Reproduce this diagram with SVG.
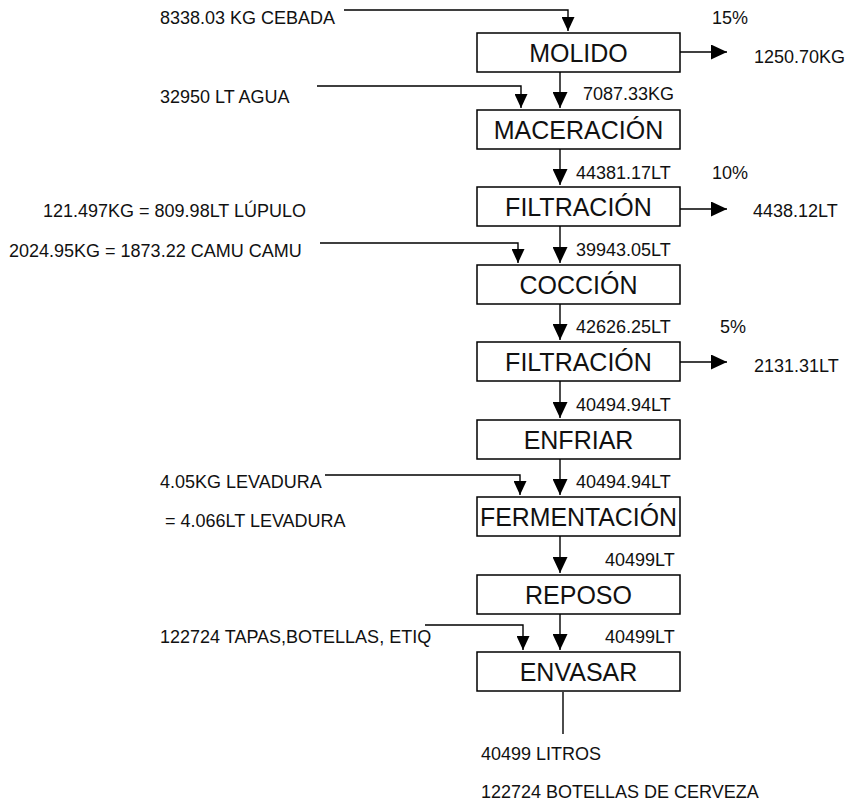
<svg xmlns="http://www.w3.org/2000/svg" width="846" height="804" viewBox="0 0 846 804">
<defs>
<style>
.box rect{fill:#fff;stroke:#000;stroke-width:1.5}
.box text{font-family:"Liberation Sans",Arial,sans-serif;font-size:25px;fill:#111;text-anchor:middle}
.lbl{font-family:"Liberation Sans",Arial,sans-serif;font-size:18px;fill:#111}
.c{fill:none;stroke:#000;stroke-width:1.4}
.m{marker-end:url(#ah)}
.s{marker-end:url(#sh)}
</style>
<marker id="ah" markerUnits="userSpaceOnUse" markerWidth="16" markerHeight="15" refX="16" refY="7.5" orient="auto">
<path d="M0,0 L16,7.5 L0,15 z" fill="#000"/>
</marker>
<marker id="sh" markerUnits="userSpaceOnUse" markerWidth="14" markerHeight="13" refX="14" refY="6.5" orient="auto">
<path d="M0,0 L14,6.5 L0,13 z" fill="#000"/>
</marker>
</defs>
<rect width="846" height="804" fill="#fff"/>
<g id="connectors">
<path class="c m" d="M560,72 V108"/>
<path class="c m" d="M560,149 V185"/>
<path class="c m" d="M560,226 V263"/>
<path class="c m" d="M560,304 V340"/>
<path class="c m" d="M560,381 V418"/>
<path class="c m" d="M560,459 V495"/>
<path class="c m" d="M560,536 V573"/>
<path class="c m" d="M560,614 V650"/>
<path class="c s" d="M344,10 H568 V31"/>
<path class="c s" d="M317,86 H521 V108"/>
<path class="c s" d="M320,243 H518 V263"/>
<path class="c s" d="M325,475 H520 V495"/>
<path class="c s" d="M425,625 H523 V650"/>
<path class="c m" d="M680,52 H727"/>
<path class="c m" d="M680,209 H727"/>
<path class="c m" d="M680,362 H727"/>
<path class="c" d="M563,692 V734"/>
</g>
<g id="molido" class="box"><rect x="477" y="33" width="203" height="39"/><text x="578.5" y="62">MOLIDO</text></g>
<g id="maceracion" class="box"><rect x="477" y="110" width="203" height="39"/><text x="578.5" y="139">MACERACIÓN</text></g>
<g id="filtracion1" class="box"><rect x="477" y="187" width="203" height="39"/><text x="578.5" y="216">FILTRACIÓN</text></g>
<g id="coccion" class="box"><rect x="477" y="265" width="203" height="39"/><text x="578.5" y="294">COCCIÓN</text></g>
<g id="filtracion2" class="box"><rect x="477" y="342" width="203" height="39"/><text x="578.5" y="371">FILTRACIÓN</text></g>
<g id="enfriar" class="box"><rect x="477" y="420" width="203" height="39"/><text x="578.5" y="449">ENFRIAR</text></g>
<g id="fermentacion" class="box"><rect x="477" y="497" width="203" height="39"/><text x="578.5" y="526" textLength="197" lengthAdjust="spacingAndGlyphs">FERMENTACIÓN</text></g>
<g id="reposo" class="box"><rect x="477" y="575" width="203" height="39"/><text x="578.5" y="604">REPOSO</text></g>
<g id="envasar" class="box"><rect x="477" y="652" width="203" height="39"/><text x="578.5" y="681">ENVASAR</text></g>
<g id="labels">
<text class="lbl" x="160" y="24">8338.03 KG CEBADA</text>
<text class="lbl" x="712" y="24">15%</text>
<text class="lbl" x="754" y="63">1250.70KG</text>
<text class="lbl" x="160" y="103">32950 LT AGUA</text>
<text class="lbl" x="583" y="100">7087.33KG</text>
<text class="lbl" x="576" y="179">44381.17LT</text>
<text class="lbl" x="712" y="179">10%</text>
<text class="lbl" x="753" y="217">4438.12LT</text>
<text class="lbl" x="43" y="217">121.497KG = 809.98LT LÚPULO</text>
<text class="lbl" x="9" y="257">2024.95KG = 1873.22 CAMU CAMU</text>
<text class="lbl" x="576" y="256">39943.05LT</text>
<text class="lbl" x="576" y="333">42626.25LT</text>
<text class="lbl" x="720" y="333">5%</text>
<text class="lbl" x="754" y="372">2131.31LT</text>
<text class="lbl" x="576" y="411">40494.94LT</text>
<text class="lbl" x="576" y="488">40494.94LT</text>
<text class="lbl" x="160" y="488">4.05KG LEVADURA</text>
<text class="lbl" x="165" y="527">= 4.066LT LEVADURA</text>
<text class="lbl" x="605" y="566">40499LT</text>
<text class="lbl" x="160" y="643">122724 TAPAS,BOTELLAS, ETIQ</text>
<text class="lbl" x="605" y="643">40499LT</text>
<text class="lbl" x="481" y="760">40499 LITROS</text>
<text class="lbl" x="481" y="798">122724 BOTELLAS DE CERVEZA</text>
</g>
</svg>
